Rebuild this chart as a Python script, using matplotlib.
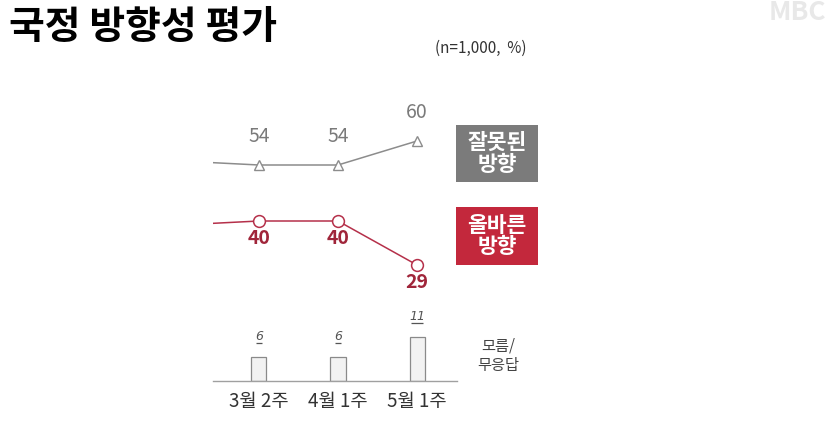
import matplotlib
matplotlib.use("Agg")
import matplotlib.pyplot as plt
from matplotlib.patches import Rectangle
import matplotlib.transforms as mtrans

plt.rcParams['font.family'] = ['Noto Sans CJK KR', 'DejaVu Sans']

# ---- data ----
weeks = ['3월 2주', '4월 1주', '5월 1주']
wrong_dir = [54, 54, 60]      # 잘못된 방향
right_dir = [40, 40, 29]      # 올바른 방향
dont_know = [6, 6, 11]        # 모름/무응답
prev_wrong = 55               # previous survey (partly visible at left edge)
prev_right = 39

GRAY = '#8c8c8c'
RED = '#b5304a'
W, H = 840, 446
fig = plt.figure(figsize=(W / 100, H / 100), dpi=100)

def fx(px):
    return px / W

def fy(py):
    return 1 - py / H

# axes: left 213px, right 457px, y=0 at 381px, 4 px per unit
ax = fig.add_axes([fx(213), fy(381), (457 - 213) / W, 300 / H])
ax.set_xlim(-0.582, 2.506)
ax.set_ylim(0, 75)
for s in ['top', 'right', 'left']:
    ax.spines[s].set_visible(False)
ax.spines['bottom'].set_color('#a0a0a0')
ax.spines['bottom'].set_linewidth(1.0)
ax.set_yticks([])
ax.set_xticks(range(len(weeks)))
ax.set_xticklabels(weeks, fontsize=13.5, color='#333333')
ax.tick_params(axis='x', length=0, pad=7)

xs = list(range(len(weeks)))

# lines (including the segment from previous survey, clipped)
ax.plot([-1] + xs, [prev_wrong] + wrong_dir, color=GRAY, lw=1.1, zorder=2)
ax.plot(xs, wrong_dir, ls='none', marker='^', ms=6.5, mfc='white', mec=GRAY, mew=1.0, zorder=3)
ax.plot([-1] + xs, [prev_right] + right_dir, color=RED, lw=1.1, zorder=2)
ax.plot(xs, right_dir, ls='none', marker='o', ms=8.5, mfc='white', mec=RED, mew=1.1, zorder=3)

for x, v in zip(xs, wrong_dir):
    ax.annotate(str(v), (x, v), xytext=(0, 28), textcoords='offset pixels',
                ha='center', va='center', fontsize=14, color='#7a7a7a')
for x, v in zip(xs, right_dir):
    ax.annotate(str(v), (x, v), xytext=(0, -17), textcoords='offset pixels',
                ha='center', va='center', fontsize=14, color='#a0253a', fontweight='bold')

# bars
ax.bar(xs, dont_know, width=0.19, color='#f2f2f2', edgecolor='#8a8a8a', lw=0.9, zorder=2)
for x, v in zip(xs, dont_know):
    ax.annotate(str(v), (x, v), xytext=(0, 21), textcoords='offset pixels',
                ha='center', va='center', fontsize=9, color='#555555', style='italic',
                family='DejaVu Sans')
    tr = mtrans.offset_copy(ax.transData, fig=fig, x=0, y=14, units='dots')
    ax.plot([x], [v], marker='_', ms=5 + 3 * (len(str(v)) - 1), mec='#555555', mew=0.9,
            transform=tr, clip_on=False)

# legend boxes
fig.patches.append(Rectangle((fx(456), fy(182)), 82 / W, 57 / H, transform=fig.transFigure,
                             facecolor='#7b7b7b', edgecolor='none'))
fig.text(fx(497), fy(153.5), '잘못된\n방향', ha='center', va='center', color='white',
         fontsize=15.5, fontweight='bold', linespacing=1.05)
fig.patches.append(Rectangle((fx(456), fy(265)), 82 / W, 58 / H, transform=fig.transFigure,
                             facecolor='#c3283c', edgecolor='none'))
fig.text(fx(497), fy(236), '올바른\n방향', ha='center', va='center', color='white',
         fontsize=15.5, fontweight='bold', linespacing=1.05)
fig.text(fx(498), fy(356), '모름/\n무응답', ha='center', va='center', color='#444444',
         fontsize=11, linespacing=1.2)

# title and notes
fig.text(fx(9), fy(28), '국정 방향성 평가', ha='left', va='center', color='black',
         fontsize=28, fontweight='black')
fig.text(fx(481), fy(48), '(n=1,000,  %)', ha='center', va='center', color='#333333',
         fontsize=11)
fig.text(fx(797), fy(13), 'MBC', ha='center', va='center', color='#e8e8e8',
         fontsize=19, fontweight='bold')

fig.savefig('out.png', dpi=100)
